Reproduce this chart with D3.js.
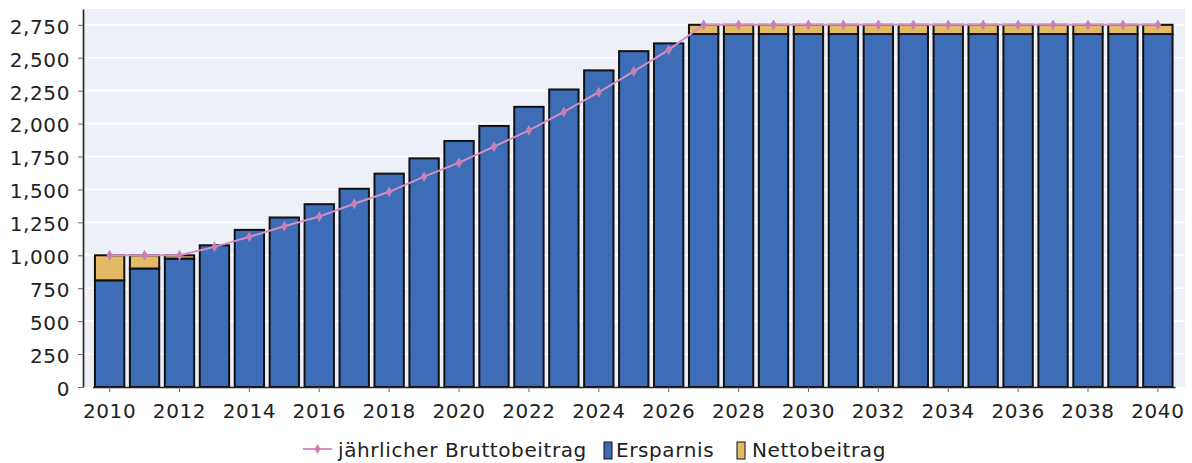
<!DOCTYPE html>
<html>
<head>
<meta charset="utf-8">
<script src="https://cdn.jsdelivr.net/npm/d3@7"></script>
<style>
  body { margin: 0; background: #ffffff; }
  text { font-family: "DejaVu Sans", sans-serif; fill: #222222; letter-spacing: 0.6px; }
</style>
</head>
<body>
<div id="chart"></div>
<script>
// Data
var years = [2010, 2011, 2012, 2013, 2014, 2015, 2016, 2017, 2018, 2019, 2020,
    2021, 2022, 2023, 2024, 2025, 2026, 2027, 2028, 2029, 2030,
    2031, 2032, 2033, 2034, 2035, 2036, 2037, 2038, 2039, 2040];

var ersparnis = [810, 900, 975, 1076, 1193, 1287, 1388, 1505, 1620, 1736, 1868,
    1982, 2127, 2259, 2404, 2550, 2609, 2680, 2680, 2680, 2680,
    2680, 2680, 2680, 2680, 2680, 2680, 2680, 2680, 2680, 2680];

var nettobeitrag = [190, 100, 25, 0, 0, 0, 0, 0, 0, 0, 0,
    0, 0, 0, 0, 0, 0, 70, 70, 70, 70,
    70, 70, 70, 70, 70, 70, 70, 70, 70, 70];

var bruttobeitrag = [1000, 1000, 1000, 1064, 1140, 1221, 1294, 1391, 1482, 1597, 1703,
    1825, 1949, 2088, 2238, 2396, 2560, 2750, 2750, 2750, 2750,
    2750, 2750, 2750, 2750, 2750, 2750, 2750, 2750, 2750, 2750];

var yTicks = [0, 250, 500, 750, 1000, 1250, 1500, 1750, 2000, 2250, 2500, 2750];
var xTicks = [2010, 2012, 2014, 2016, 2018, 2020, 2022, 2024, 2026, 2028,
    2030, 2032, 2034, 2036, 2038, 2040];

var seriesNames = ["jährlicher Bruttobeitrag", "Ersparnis", "Nettobeitrag"];

// SVG dimensions
var svgWidth = 1192;
var svgHeight = 463;

var margin = { top: 9, right: 7, bottom: 76, left: 83 };

var plotWidth = svgWidth - margin.left - margin.right;
var plotHeight = svgHeight - margin.top - margin.bottom;

var svg = d3.select("#chart")
    .append("svg")
    .attr("width", svgWidth)
    .attr("height", svgHeight);

var chartGroup = svg.append("g")
    .attr("transform", `translate(${margin.left}, ${margin.top})`);

// table for the stack
var table = years.map(function(y, i) {
    return { year: y, Ersparnis: ersparnis[i], Nettobeitrag: nettobeitrag[i], brutto: bruttobeitrag[i] };
});

// Scales
var xScale = d3.scaleBand()
    .domain(years)
    .range([9.5, plotWidth - 10])
    .paddingInner(0.16)
    .paddingOuter(0.07);

var yScale = d3.scaleLinear()
    .domain([0, 2870])
    .range([plotHeight, 0]);

// plot background
chartGroup.append("rect")
    .attr("width", plotWidth)
    .attr("height", plotHeight)
    .attr("fill", "#edf0f7");

// gridlines
chartGroup.selectAll(".grid")
    .data(yTicks.slice(1))
    .enter()
    .append("line")
    .attr("x1", 0)
    .attr("x2", plotWidth)
    .attr("y1", d => yScale(d))
    .attr("y2", d => yScale(d))
    .attr("stroke", "#ffffff")
    .attr("stroke-width", 1.6);

// stacked bars
var stack = d3.stack().keys(["Ersparnis", "Nettobeitrag"]);
var colors = { Ersparnis: "#3e6db8", Nettobeitrag: "#e4b966" };

chartGroup.selectAll(".layer")
    .data(stack(table))
    .enter()
    .append("g")
    .attr("fill", d => colors[d.key])
    .selectAll("rect")
    .data(d => d.filter(p => p[1] > p[0]))
    .enter()
    .append("rect")
    .attr("x", d => xScale(d.data.year))
    .attr("width", xScale.bandwidth())
    .attr("y", d => yScale(d[1]))
    .attr("height", d => yScale(d[0]) - yScale(d[1]))
    .attr("stroke", "#111111")
    .attr("stroke-width", 2);

// Axes
var xAxis = d3.axisBottom(xScale).tickValues(xTicks).tickSize(5).tickSizeOuter(0);
var yAxis = d3.axisLeft(yScale).tickValues(yTicks).tickFormat(d3.format(",")).tickSize(5).tickSizeOuter(0);

var gx = chartGroup.append("g")
    .attr("transform", `translate(0, ${plotHeight})`)
    .call(xAxis);
gx.select(".domain").attr("stroke", "#222222").attr("stroke-width", 1.6);
gx.selectAll(".tick line").attr("stroke", "#666666");
gx.selectAll(".tick text")
    .attr("y", 0)
    .attr("dy", 0)
    .attr("transform", "translate(0, 31)")
    .style("font-size", "20px");

var gy = chartGroup.append("g")
    .call(yAxis);
gy.select(".domain").attr("stroke", "#222222").attr("stroke-width", 1.6);
gy.selectAll(".tick line").attr("stroke", "#666666");
gy.selectAll(".tick text")
    .attr("x", -13)
    .attr("dy", "0.42em")
    .style("font-size", "20px");

// Bruttobeitrag line
var lineColor = "#d48fc4";
var line = d3.line()
    .x(d => xScale(d.year) + xScale.bandwidth() / 2)
    .y(d => yScale(d.brutto));

chartGroup.append("path")
    .datum(table)
    .attr("d", line)
    .attr("fill", "none")
    .attr("stroke", lineColor)
    .attr("stroke-width", 2);

chartGroup.selectAll(".marker")
    .data(table)
    .enter()
    .append("path")
    .attr("d", d3.symbol().type(d3.symbolDiamond).size(34))
    .attr("transform", d => `translate(${xScale(d.year) + xScale.bandwidth() / 2}, ${yScale(d.brutto)})`)
    .attr("fill", "#c97fb6");

// Legend
var legend = svg.append("g");
var ly = 449;

legend.append("line")
    .attr("x1", 303).attr("x2", 332)
    .attr("y1", ly).attr("y2", ly)
    .attr("stroke", lineColor)
    .attr("stroke-width", 2);
legend.append("path")
    .attr("d", d3.symbol().type(d3.symbolDiamond).size(30))
    .attr("transform", `translate(317.5, ${ly})`)
    .attr("fill", "#c97fb6");
legend.append("text")
    .attr("x", 338).attr("y", 457)
    .style("font-size", "20px")
    .text(seriesNames[0]);

legend.append("rect")
    .attr("x", 604).attr("y", 442).attr("width", 8).attr("height", 17)
    .attr("fill", colors.Ersparnis).attr("stroke", "#111111").attr("stroke-width", 1);
legend.append("text")
    .attr("x", 616).attr("y", 457)
    .style("font-size", "20px")
    .text(seriesNames[1]);

legend.append("rect")
    .attr("x", 737).attr("y", 442).attr("width", 8).attr("height", 17)
    .attr("fill", colors.Nettobeitrag).attr("stroke", "#111111").attr("stroke-width", 1);
legend.append("text")
    .attr("x", 752).attr("y", 457)
    .style("font-size", "20px")
    .text(seriesNames[2]);
</script>
</body>
</html>
